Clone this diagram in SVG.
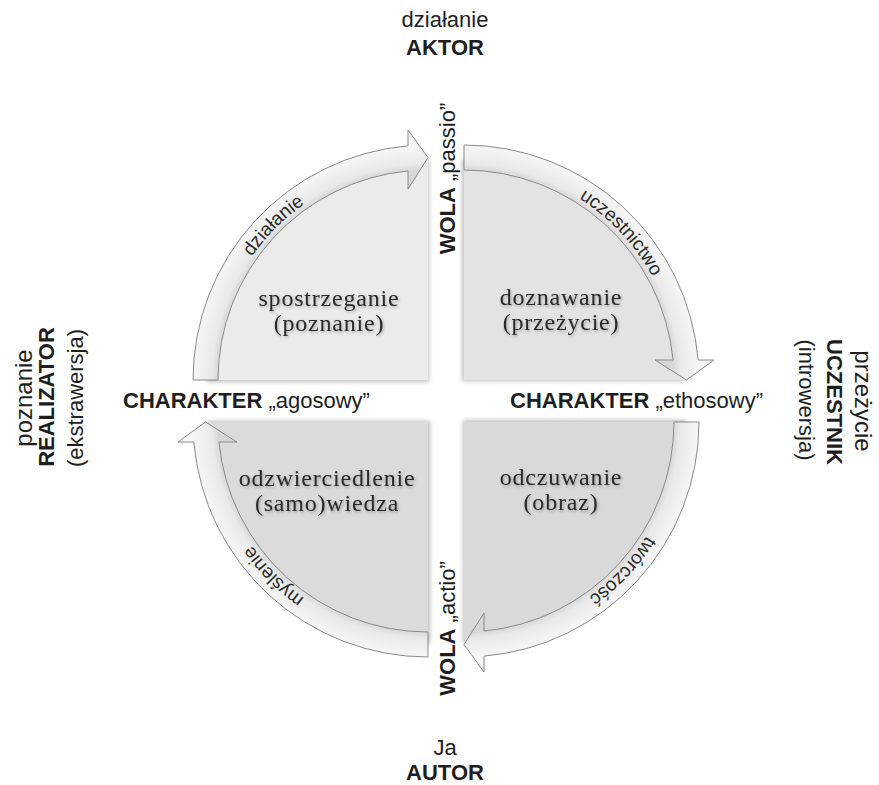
<svg xmlns="http://www.w3.org/2000/svg" xmlns:xlink="http://www.w3.org/1999/xlink" width="879" height="785" viewBox="0 0 879 785">
<defs>
  <style>
    .sans{font-family:"Liberation Sans",Arial,sans-serif;fill:#1e1e1e;font-size:22px}
    .b{font-weight:bold}
    .serif{font-family:"Liberation Serif","Times New Roman",serif;fill:#2a2a2a;font-size:24px;letter-spacing:0.8px;text-anchor:middle}
    .arcl{font-family:"Liberation Sans",Arial,sans-serif;fill:#2a2a2a;font-size:19px;text-anchor:middle}
    .arrow{fill:url(#arrowGrad);stroke:#8a8a8a;stroke-width:1}
    .pie{filter:url(#pieShadow)}
  </style>
  <radialGradient id="arrowGrad" gradientUnits="userSpaceOnUse" cx="0" cy="0" r="235">
    <stop offset="0.89" stop-color="#d6d6d6"/>
    <stop offset="0.92" stop-color="#e9e9e9"/>
    <stop offset="1" stop-color="#f6f6f6"/>
  </radialGradient>
  <filter id="pieShadow" x="-10%" y="-10%" width="125%" height="125%">
    <feDropShadow dx="1" dy="2" stdDeviation="2" flood-color="#000" flood-opacity="0.25"/>
  </filter>
  <filter id="txtShadow" x="-10%" y="-30%" width="130%" height="170%">
    <feDropShadow dx="1" dy="1.5" stdDeviation="1.5" flood-color="#000" flood-opacity="0.3"/>
  </filter>
  <path id="piePath" d="M0,0 L-222.5,0 A222.5,222.5 0 0 1 0,-222.5 Z"/>
  <path id="arrowPath" d="M-235,0 A235,235 0 0 1 -20,-234.15 L-20,-250 L0,-222.5 L-20,-191 L-20,-209.05 A210,210 0 0 0 -210,0 Z"/>
  <path id="arcLab" d="M-215,0 A215,215 0 0 1 0,-215"/>
</defs>

<!-- quadrant nodes (pies) -->
<g id="q-spostrzeganie">
  <use href="#piePath" class="pie" transform="translate(428,380)" fill="#ebebeb"/>
</g>
<g id="q-doznawanie">
  <use href="#piePath" class="pie" transform="translate(464,380) rotate(90)" fill="#e3e3e3"/>
</g>
<g id="q-odczuwanie">
  <use href="#piePath" class="pie" transform="translate(464,422) rotate(180)" fill="#d9d9d9"/>
</g>
<g id="q-odzwierciedlenie">
  <use href="#piePath" class="pie" transform="translate(428,422) rotate(270)" fill="#dbdbdb"/>
</g>

<!-- connectors: curved arrows with labels -->
<g id="connectors">
  <g transform="translate(428,380)">
    <use href="#arrowPath" class="arrow"/>
    <text class="arcl"><textPath href="#arcLab" startOffset="50%">działanie</textPath></text>
  </g>
  <g transform="translate(464,380) rotate(90)">
    <use href="#arrowPath" class="arrow"/>
    <text class="arcl"><textPath href="#arcLab" startOffset="52%">uczestnictwo</textPath></text>
  </g>
  <g transform="translate(464,422) rotate(180)">
    <use href="#arrowPath" class="arrow"/>
    <text class="arcl"><textPath href="#arcLab" startOffset="48%">twórczość</textPath></text>
  </g>
  <g transform="translate(428,422) rotate(270)">
    <use href="#arrowPath" class="arrow"/>
    <text class="arcl"><textPath href="#arcLab" startOffset="50%">myślenie</textPath></text>
  </g>
</g>

<!-- quadrant texts -->
<g id="t-spostrzeganie" filter="url(#txtShadow)">
  <text class="serif" x="329" y="306">spostrzeganie</text>
  <text class="serif" x="329" y="331">(poznanie)</text>
</g>
<g id="t-doznawanie" filter="url(#txtShadow)">
  <text class="serif" x="561" y="305">doznawanie</text>
  <text class="serif" x="561" y="330">(przeżycie)</text>
</g>
<g id="t-odczuwanie" filter="url(#txtShadow)">
  <text class="serif" x="561" y="485">odczuwanie</text>
  <text class="serif" x="561" y="510">(obraz)</text>
</g>
<g id="t-odzwierciedlenie" filter="url(#txtShadow)">
  <text class="serif" x="327" y="486">odzwierciedlenie</text>
  <text class="serif" x="327" y="511">(samo)wiedza</text>
</g>

<!-- axis labels -->
<g id="charakter-agosowy">
  <text class="sans" x="123" y="408"><tspan class="b">CHARAKTER</tspan> „agosowy”</text>
</g>
<g id="charakter-ethosowy">
  <text class="sans" x="510" y="408"><tspan class="b">CHARAKTER</tspan> „ethosowy”</text>
</g>
<g id="wola-passio">
  <text class="sans" text-anchor="middle" transform="translate(455,178.5) rotate(-90)"><tspan class="b">WOLA</tspan> „passio”</text>
</g>
<g id="wola-actio">
  <text class="sans" text-anchor="middle" transform="translate(455,628.5) rotate(-90)"><tspan class="b">WOLA</tspan> „actio”</text>
</g>

<!-- outer labels -->
<g id="aktor">
  <text class="sans" x="445" y="27" text-anchor="middle">działanie</text>
  <text class="sans b" x="445" y="55" text-anchor="middle">AKTOR</text>
</g>
<g id="autor">
  <text class="sans" x="445" y="755" text-anchor="middle">Ja</text>
  <text class="sans b" x="445" y="780" text-anchor="middle">AUTOR</text>
</g>
<g id="realizator">
  <text class="sans" style="font-size:24px" text-anchor="middle" transform="translate(32,398) rotate(-90)">poznanie</text>
  <text class="sans b" text-anchor="middle" transform="translate(54,397) rotate(-90)">REALIZATOR</text>
  <text class="sans" text-anchor="middle" transform="translate(83,398) rotate(-90)">(ekstrawersja)</text>
</g>
<g id="uczestnik">
  <text class="sans" style="font-size:24px" text-anchor="middle" transform="translate(855,401) rotate(90)">przeżycie</text>
  <text class="sans b" text-anchor="middle" transform="translate(827,402) rotate(90)">UCZESTNIK</text>
  <text class="sans" text-anchor="middle" transform="translate(799,400) rotate(90)">(introwersja)</text>
</g>
</svg>
